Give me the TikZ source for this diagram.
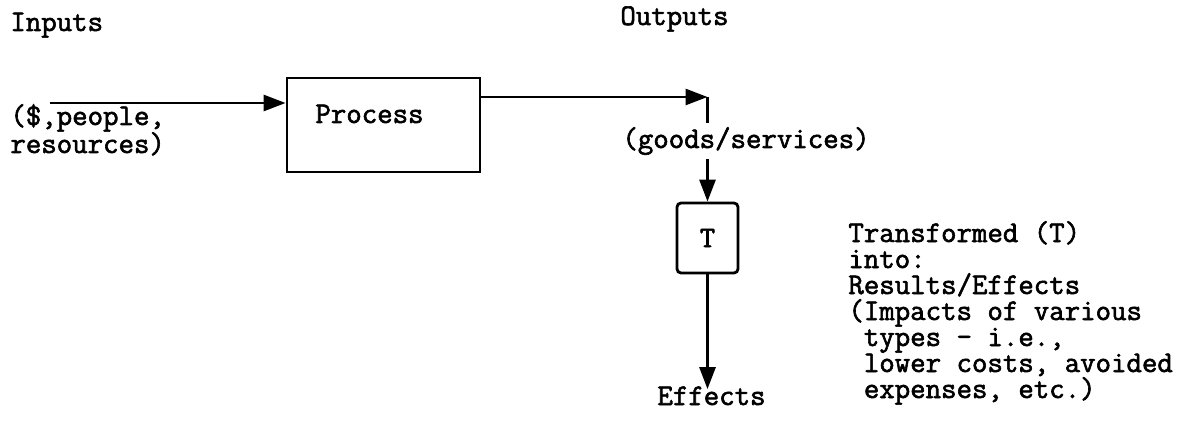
\documentclass[tikz,border=0pt]{standalone}
\usepackage{fontspec}
\setmonofont{Latin Modern Mono}[BoldFont={Latin Modern Mono}, BoldFeatures={FakeBold=2}]
\usetikzlibrary{positioning, arrows.meta, calc}

\begin{document}
\begin{tikzpicture}[
    x=0.5pt, y=-0.5pt,
    font=\ttfamily\bfseries\fontsize{15}{13}\selectfont,
    arrow/.style={
        -{Triangle[length=11pt, width=8pt]},
        line width=1.4pt
    },
    box/.style={
        rectangle,
        draw,
        line width=1.4pt,
        inner sep=0pt
    },
    txt/.style={ % plain typed text
        inner sep=0pt,
        align=left
    }
]
    \useasboundingbox (0,0) rectangle (1192,438);

    % Headings
    \node[txt, anchor=base west] (inputs) at (10,31) {Inputs};
    \node[txt, anchor=base west] (outputs) at (620,25) {Outputs};

    % Process box
    \node[box, minimum width=96.5pt, minimum height=47pt] (process) at (383.5,125) {};
    \node[txt, anchor=base west] (proctext) at (315,123) {Process};

    % Inputs (base = last line)
    \node[txt, anchor=base west, font=\ttfamily\bfseries\fontsize{15}{14}\selectfont] (ins) at (10,153) {(\$,people,\\resources)};
    \coordinate (instart) at (50,103);
    \draw[arrow] (instart) -- (instart -| process.west);

    % Outputs
    \coordinate (bend) at (707.5,97);
    \node[box, rounded corners=2pt, minimum width=30.5pt, minimum height=35pt] (tbox) at (707.5,238) {T};
    \draw[arrow] (bend -| process.east) -- (bend);
    \draw[arrow] (bend) -- (tbox.north);
    \node[txt, anchor=base west, fill=white, inner ysep=2pt] (goods) at (622,148) {(goods/services)};

    % Effects
    \node[txt, anchor=base west] (effects) at (657,405) {Effects};
    \draw[arrow, shorten >=-1.5pt] (tbox.south) -- (tbox.south |- effects.north);

    % Explanation (base = last line)
    \node[txt, anchor=base west] (note) at (848,398) {Transformed (T)\\into:\\Results/Effects\\(Impacts of various\\\ types - i.e.,\\\ lower costs, avoided\\\ expenses, etc.)};

\end{tikzpicture}
\end{document}
